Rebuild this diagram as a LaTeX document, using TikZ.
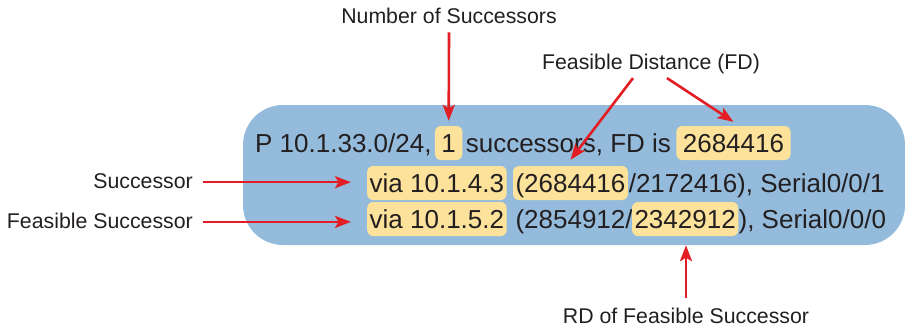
\documentclass[tikz,border=0pt]{standalone}
\usepackage{fontspec}
\setmainfont{Liberation Sans}
\usetikzlibrary{arrows.meta,calc}
\definecolor{boxblue}{RGB}{148,187,220}
\definecolor{hl}{RGB}{253,226,155}
\definecolor{arr}{RGB}{226,30,36}
\definecolor{txt}{RGB}{35,31,32}
\begin{document}
\begin{tikzpicture}[x=1pt,y=-1pt,
  every node/.style={text=txt},
  main/.style={font=\fontsize{26}{30}\selectfont, inner sep=0pt, anchor=base west},
  hlbox/.style={main, fill=hl, rounded corners=6pt, inner xsep=2.5pt, inner ysep=5pt, text height=21pt, text depth=3pt},
  lbl/.style={font=\fontsize{21.3}{25}\selectfont, inner sep=0pt},
  arrow/.style={draw=arr, line width=2.6pt, -{Stealth[length=16pt,width=12pt,inset=3.5pt]}}
]
\useasboundingbox (0,0) rectangle (905,329);
\node[fill=boxblue, rounded corners=40pt, minimum width=662pt, minimum height=140pt, inner sep=0pt] (box) at (574,175) {};
% line 1
\node[main] (p1) at (255,152) {P 10.1.33.0/24,};
\node[hlbox, inner xsep=6.5pt] (h1) at ([xshift=3pt]p1.base east) {1};
\node[main] (s1) at ([xshift=3pt]h1.base east) {successors, FD is};
\node[hlbox, inner xsep=6.5pt] (h2) at ([xshift=5pt]s1.base east) {2684416};
% line 2
\node[hlbox] (hv1) at (367,192) {via 10.1.4.3};
\node[hlbox] (hp) at ([xshift=6pt]hv1.base east) {(2684416};
\node[main] (r2) at ([xshift=0.5pt]hp.base east) {/2172416), Serial0/0/1};
% line 3
\node[hlbox] (hv2) at (367,228) {via 10.1.5.2};
\node[main] (t3) at ([xshift=8.5pt]hv2.base east) {(2854912/};
\node[hlbox] (h3) at ([xshift=-1pt]t3.base east) {2342912};
\node[main] (r3) at (h3.base east) {), Serial0/0/0};
% labels
\node[lbl, anchor=base] (nos) at (449,24) {Number of Successors};
\node[lbl, anchor=base] (fd) at (651,70) {Feasible Distance (FD)};
\node[lbl, anchor=base east] (succ) at (193,188) {Successor};
\node[lbl, anchor=base east] (fs) at (193,228) {Feasible Successor};
\node[lbl, anchor=base] (rd) at (686,323) {RD of Feasible Successor};
% arrows
\draw[arrow] ([yshift=-8pt]nos.south) -- ([yshift=5pt]h1.north);
\draw[arrow] ([xshift=-18pt,yshift=-3.5pt]fd.south) -- ([yshift=6pt]hp.north);
\draw[arrow] ([xshift=16pt,yshift=-3.5pt]fd.south) -- ([yshift=4pt]h2.north);
\draw[arrow] ([xshift=10pt,yshift=-1.5pt]succ.east) -- ([xshift=-16pt,yshift=-1.5pt]succ.east -| hv1.west);
\draw[arrow] ([xshift=10pt,yshift=-1.5pt]fs.east) -- ([xshift=-16pt,yshift=-1.5pt]fs.east -| hv2.west);
\draw[arrow] ([yshift=9pt]rd.north) -- (rd.north |- box.south);
\end{tikzpicture}
\end{document}
